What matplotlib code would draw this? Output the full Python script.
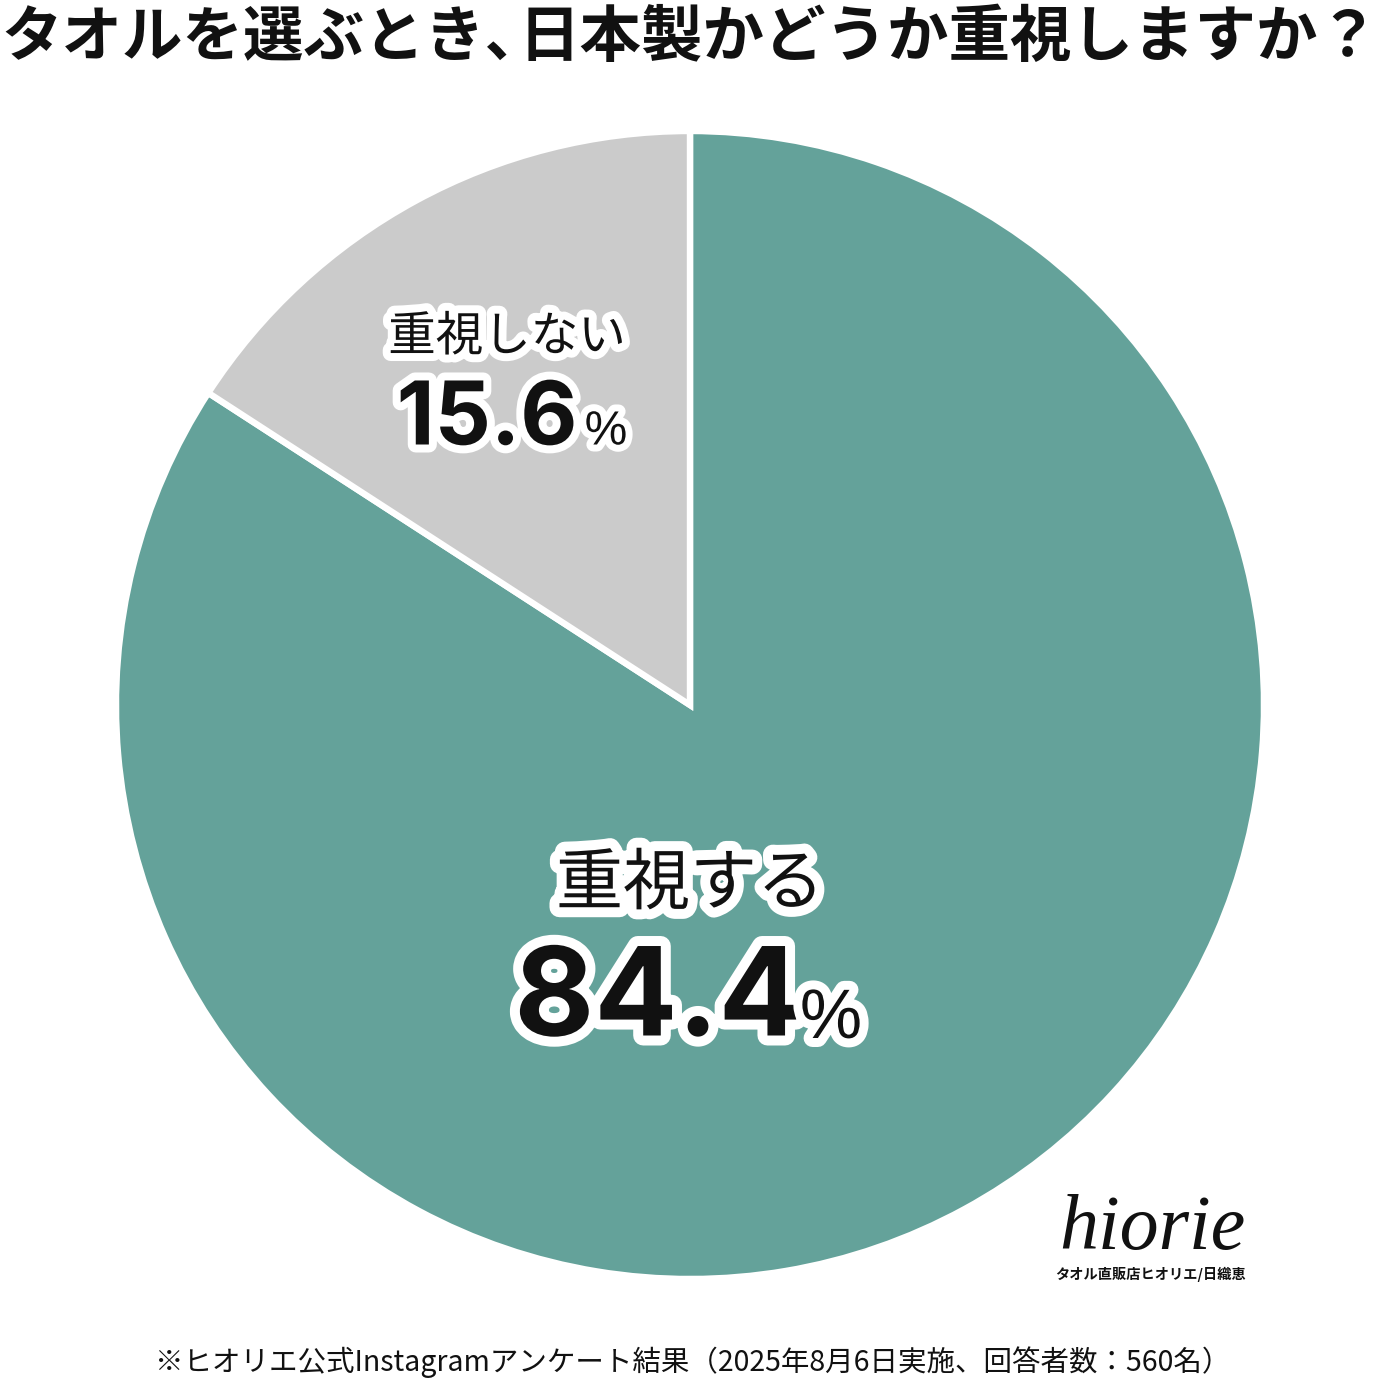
import matplotlib
matplotlib.use('Agg')
import matplotlib.pyplot as plt
import matplotlib.patheffects as pe

labels = ['重視する', '重視しない']
percents = ['84.4', '15.6']
# shares as drawn: the grey slice is a little wider than its label says
shares = [84.15, 15.85]
colors = ['#64a29a', '#cbcbcb']
# escapes are the full-width ? ( ) : and the half-width comma
title_parts = ['タオルを選ぶとき', '\uff64', '日本製かどうか重視しますか\uff1f']
note = '※ヒオリエ公式Instagramアンケート結果\uff082025年8月6日実施、回答者数\uff1a560名\uff09'

W, H = 1380, 1384
JP = 'Noto Sans CJK JP'
NUM = 'Inter'
INK = '#111111'


def put(x, y, s, size, family=JP, weight='normal', ha='center', stroke=0, style='normal'):
    """text at pixel position, y counted from the top"""
    t = fig.text(x / W, 1 - y / H, s, fontsize=size * 72 / 100, family=family, weight=weight,
                 ha=ha, va='center', color=INK, style=style)
    if stroke:
        t.set_path_effects([pe.withStroke(linewidth=stroke * 72 / 100, foreground='white')])
    return t


fig = plt.figure(figsize=(W / 100, H / 100), dpi=100, facecolor='white')

# pie sits in a square axes, slightly larger than the visible disc because of the white edge
cx, cy, r = 690, 705, 574
ax = fig.add_axes([(cx - r) / W, 1 - (cy + r) / H, 2 * r / W, 2 * r / H])
ax.pie(shares, colors=colors, startangle=90, counterclock=False, radius=1,
       wedgeprops={'edgecolor': 'white', 'linewidth': 4.6, 'joinstyle': 'miter'})
ax.set_xlim(-1, 1)
ax.set_ylim(-1, 1)
ax.axis('off')

# title is set in three pieces because the reference tightens the comma
put(1, 38, title_parts[0], 60.5, weight='bold', ha='left')
put(486, 38, title_parts[1], 60.5, weight='bold', ha='left')
put(1380, 38, title_parts[2], 61.5, weight='bold', ha='right')
put(693, 1362, note, 28.5)

put(690, 885, labels[0], 67, stroke=20)
put(658, 1003, percents[0], 123, family=NUM, weight='bold', stroke=20)
put(831, 1020, '%', 70, family='Liberation Sans', stroke=18)

put(507, 337, labels[1], 47.5, stroke=16)
put(487, 421, percents[1], 88, family=NUM, weight='bold', stroke=16)
put(606, 432, '%', 48, family='Liberation Sans', stroke=14)

# logo
put(1152, 1230, 'hiorie', 78, family='Liberation Serif', style='italic')
put(1151, 1274, 'タオル直販店ヒオリエ/日織恵', 14.2, weight='bold')

fig.savefig('out.png', dpi=100)
